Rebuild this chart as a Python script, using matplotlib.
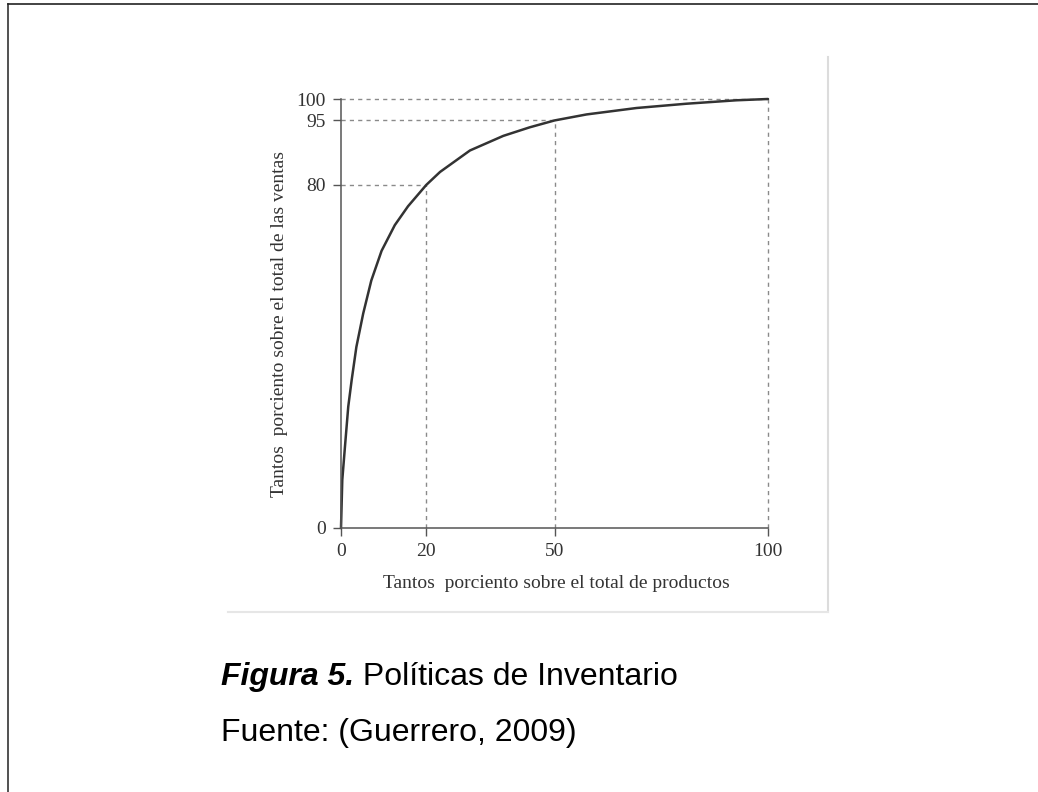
import matplotlib
matplotlib.use("Agg")
import matplotlib.pyplot as plt
from matplotlib.lines import Line2D

# curve (% of products vs % of sales)
pct_products = [0, 0.3, 0.93, 1.7, 2.5, 3.6, 5.2, 7.1, 9.5, 12.6, 15.7, 20,
                23.2, 30.2, 38.0, 44.2, 50, 57.5, 69.2, 80.9, 92.6, 100]
pct_sales = [0, 11.2, 19.0, 28.3, 34.5, 42.2, 50.0, 57.7, 64.6, 70.6, 75.0, 80,
             83.0, 88.0, 91.4, 93.4, 95, 96.4, 97.9, 98.9, 99.7, 100]

# dashed guide lines
guide_x = [20, 50, 100]
guide_y = [80, 95, 100]

x_ticks = [0, 20, 50, 100]
y_ticks = [0, 80, 95, 100]

xlabel = "Tantos  porciento sobre el total de productos"
ylabel = "Tantos  porciento sobre el total de las ventas"
caption_bold = "Figura 5."
caption_rest = " Políticas de Inventario"
source = "Fuente: (Guerrero, 2009)"

W, H = 1038, 792
fig = plt.figure(figsize=(W / 100, H / 100), dpi=100)
fig.patch.set_facecolor("white")

serif = "Liberation Serif"
axis_col = "#555555"

# axes box placed where the scanned chart sits
x0, x1 = 341, 768
y0, y1 = 528, 99
ax = fig.add_axes([x0 / W, 1 - y0 / H, (x1 - x0) / W, (y0 - y1) / H])
ax.set_xlim(0, 100)
ax.set_ylim(0, 100)

for s in ["top", "right"]:
    ax.spines[s].set_visible(False)
for s in ["left", "bottom"]:
    ax.spines[s].set_color(axis_col)
    ax.spines[s].set_linewidth(1.1)

# guide lines (dashed)
dash = dict(color="#8a8a8a", lw=1.0, linestyle=(0, (3, 3)), clip_on=False)
for gx, gy in zip(guide_x, guide_y):
    ax.plot([0, gx], [gy, gy], **dash)
    ax.plot([gx, gx], [0, gy], **dash)

ax.plot(pct_products, pct_sales, color="#333333", lw=1.8, clip_on=False,
        solid_capstyle="round", solid_joinstyle="round")

ax.set_xticks(x_ticks)
ax.set_yticks(y_ticks)
ax.tick_params(direction="out", length=6, width=1.0, color=axis_col,
               labelcolor="#333333", labelsize=14, pad=5)
for lab in ax.get_xticklabels() + ax.get_yticklabels():
    lab.set_fontfamily(serif)

ax.set_xlabel(xlabel, fontsize=14, family=serif, color="#333333", va="center")
ax.xaxis.set_label_coords((556 - x0) / (x1 - x0), -(583 - y0) / (y0 - y1))
ax.set_ylabel(ylabel, fontsize=14, family=serif, color="#333333", va="center")
ax.yaxis.set_label_coords((280 - x0) / (x1 - x0), (y0 - 324) / (y0 - y1))

# faint edges of the scanned image
fig.add_artist(Line2D([828 / W, 828 / W], [1 - 57 / H, 1 - 612 / H],
                      color="#dcdcdc", lw=1.5))
fig.add_artist(Line2D([228 / W, 828 / W], [1 - 612 / H, 1 - 612 / H],
                      color="#e6e6e6", lw=1.5))

# page border (left and top)
fig.add_artist(Line2D([8 / W, 8 / W], [0, 1 - 4 / H], color="#333333", lw=1.2))
fig.add_artist(Line2D([8 / W, 1], [1 - 4 / H, 1 - 4 / H], color="#222222", lw=1.2))

# caption
sans = "Liberation Sans"
t = fig.text(221 / W, 1 - 677 / H, caption_bold, fontsize=23, family=sans,
             weight="bold", style="italic", va="center", ha="left")
fig.canvas.draw()
bb = t.get_window_extent()
fig.text(bb.x1 / W, 1 - 677 / H, caption_rest, fontsize=23, family=sans,
         va="center", ha="left")
fig.text(221 / W, 1 - 733 / H, source, fontsize=23, family=sans,
         va="center", ha="left")

fig.savefig("out.png", dpi=100)
